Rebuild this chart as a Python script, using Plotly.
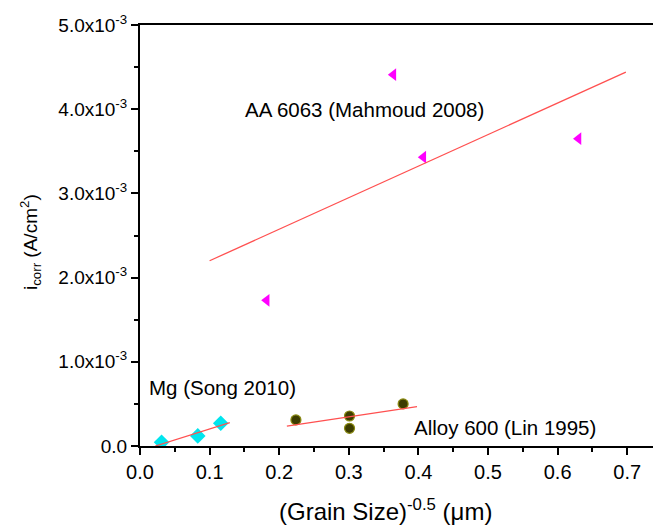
import plotly.graph_objects as go

# ---- data ----
aa_x = [0.182, 0.364, 0.407, 0.630]
aa_y = [1.73e-3, 4.41e-3, 3.43e-3, 3.65e-3]
aa_fit_x = [0.100, 0.698]
aa_fit_y = [2.20e-3, 4.44e-3]

mg_x = [0.031, 0.083, 0.116]
mg_y = [0.044e-3, 0.12e-3, 0.27e-3]
mg_fit_x = [0.022, 0.129]
mg_fit_y = [0.0, 0.277e-3]

alloy_x = [0.224, 0.301, 0.301, 0.378]
alloy_y = [0.31e-3, 0.356e-3, 0.21e-3, 0.50e-3]
alloy_fit_x = [0.211, 0.398]
alloy_fit_y = [0.237e-3, 0.467e-3]

x_ticks = [0.0, 0.1, 0.2, 0.3, 0.4, 0.5, 0.6, 0.7]
x_ticktext = ["0.0", "0.1", "0.2", "0.3", "0.4", "0.5", "0.6", "0.7"]
y_ticks = [0.0, 1e-3, 2e-3, 3e-3, 4e-3, 5e-3]
y_ticktext = ["0.0", "1.0x10<sup>-3</sup>", "2.0x10<sup>-3</sup>",
              "3.0x10<sup>-3</sup>", "4.0x10<sup>-3</sup>", "5.0x10<sup>-3</sup>"]
x_minor = [0.05, 0.15, 0.25, 0.35, 0.45, 0.55, 0.65]
y_minor = [0.5e-3, 1.5e-3, 2.5e-3, 3.5e-3, 4.5e-3]

labels = ["AA 6063 (Mahmoud 2008)", "Mg (Song 2010)", "Alloy 600 (Lin 1995)"]

FONT = "Liberation Sans, Arial, sans-serif"
RED = "#ff5050"

fig = go.Figure()
fig.add_trace(go.Scatter(x=aa_x, y=aa_y, mode="markers",
                         marker=dict(symbol="triangle-left", size=11, color="#ff00ff",
                                     line=dict(width=0))))
fig.add_trace(go.Scatter(x=mg_x, y=mg_y, mode="markers",
                         marker=dict(symbol="diamond", size=12, color="#00e5ee",
                                     line=dict(width=0))))
fig.add_trace(go.Scatter(x=alloy_x, y=alloy_y, mode="markers",
                         marker=dict(symbol="circle", size=10, color="#3d3d00",
                                     line=dict(width=1.2, color="#8a8a10"))))
for fx, fy in [(aa_fit_x, aa_fit_y), (mg_fit_x, mg_fit_y), (alloy_fit_x, alloy_fit_y)]:
    fig.add_trace(go.Scatter(x=fx, y=fy, mode="lines",
                             line=dict(color=RED, width=1.3)))

fig.update_layout(
    width=653, height=525,
    margin=dict(l=140, r=0, t=25, b=79),
    paper_bgcolor="white", plot_bgcolor="white",
    showlegend=False,
    font=dict(family=FONT, color="black", size=18),
)
fig.update_xaxes(range=[0, 0.737], tickmode="array", tickvals=x_ticks, ticktext=x_ticktext,
                 showline=True, linecolor="black", linewidth=2, mirror=True,
                 ticks="outside", ticklen=7, tickwidth=2, tickcolor="black",
                 showgrid=False, zeroline=False,
                 tickfont=dict(size=20, family=FONT),
                 minor=dict(tickvals=x_minor, ticks="outside", ticklen=4, tickwidth=2,
                            tickcolor="black", showgrid=False))
fig.update_yaxes(range=[0, 5e-3], tickmode="array", tickvals=y_ticks, ticktext=y_ticktext,
                 showline=True, linecolor="black", linewidth=2,
                 ticks="outside", ticklen=7, tickwidth=2, tickcolor="black",
                 showgrid=False, zeroline=False,
                 tickfont=dict(size=19, family=FONT),
                 minor=dict(tickvals=y_minor, ticks="outside", ticklen=4, tickwidth=2,
                            tickcolor="black", showgrid=False))

# text labels
fig.add_annotation(x=0.148, y=4.0e-3, xref="x", yref="y", text=labels[0],
                   showarrow=False, xanchor="left", yanchor="middle",
                   font=dict(size=20.5, family=FONT))
fig.add_annotation(x=0.01, y=0.70e-3, xref="x", yref="y", text=labels[1],
                   showarrow=False, xanchor="left", yanchor="middle",
                   font=dict(size=20.5, family=FONT))
fig.add_annotation(x=0.391, y=0.215e-3, xref="x", yref="y", text=labels[2],
                   showarrow=False, xanchor="left", yanchor="middle",
                   font=dict(size=20.5, family=FONT))

# axis titles
fig.add_annotation(x=0.478, y=-0.152, xref="paper", yref="paper",
                   text="(Grain Size)<sup>-0.5</sup> (\u03bcm)",
                   showarrow=False, xanchor="center", yanchor="middle",
                   font=dict(size=24, family=FONT))
fig.add_annotation(x=-0.212, y=0.485, xref="paper", yref="paper",
                   text="i<sub>corr</sub> (A/cm<sup>2</sup>)", textangle=-90,
                   showarrow=False, xanchor="center", yanchor="middle",
                   font=dict(size=19, family=FONT))

fig.write_html("out.html")
